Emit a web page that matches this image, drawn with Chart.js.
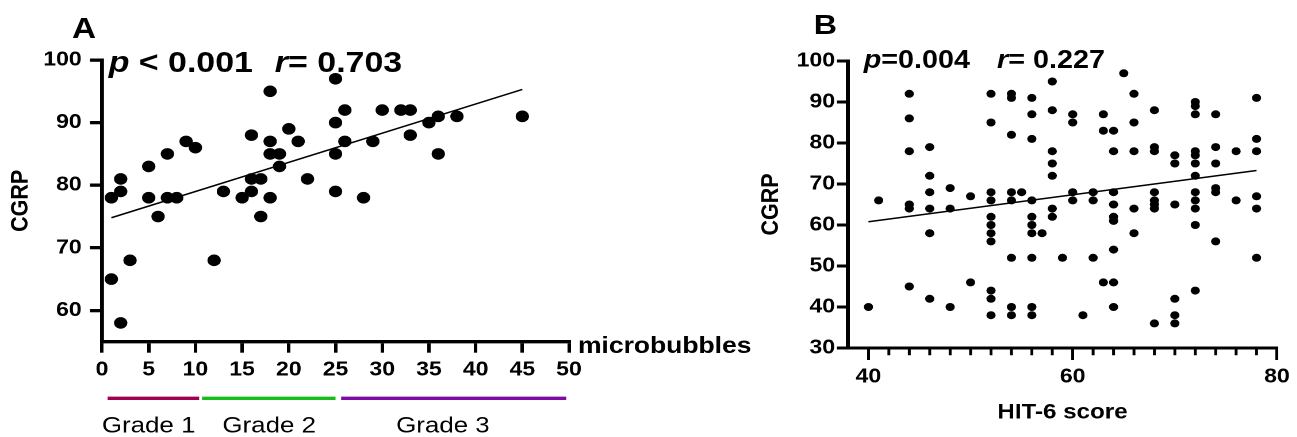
<!DOCTYPE html>
<html>
<head>
<meta charset="utf-8">
<script src="https://cdn.jsdelivr.net/npm/chart.js@4.4.0/dist/chart.umd.min.js"></script>
<style>
html, body { margin:0; padding:0; background:#fff; overflow:hidden; }
/* the source figure is stretched sideways, so the whole stage is too */
#stage { position:absolute; left:0; top:0; width:1128px; height:437px; transform:scaleX(1.15); transform-origin:0 0; font-family:'Liberation Sans', Arial, sans-serif; color:#000; }
#stage canvas { position:absolute; top:0; }
.txt { position:absolute; white-space:nowrap; font-weight:bold; }
</style>
</head>
<body>
<div id="stage">
  <canvas id="chartA" width="670" height="437" style="left:0"></canvas>
  <canvas id="chartB" width="488" height="437" style="left:640px"></canvas>
  <div class="txt" style="left:62.6px;top:13.5px;font-size:29px;line-height:29px">A</div>
  <div class="txt" style="left:707.6px;top:11.3px;font-size:28px;line-height:28px">B</div>
  <div class="txt" style="left:94.5px;top:47px;font-size:29.5px;line-height:29.5px"><i>p</i> &lt; 0.001</div>
  <div class="txt" style="left:239px;top:47px;font-size:29.5px;line-height:29.5px"><i>r</i>= 0.703</div>
  <div class="txt" style="left:751px;top:47.1px;font-size:25px;line-height:25px"><i>p</i>=0.004</div>
  <div class="txt" style="left:867px;top:47.1px;font-size:25px;line-height:25px"><i>r</i>= 0.227</div>
</div>
<script>
// panel A : CGRP vs microbubbles
let microbubbles = [1, 2, 2, 1, 2, 3, 5, 5, 6, 7, 7, 8, 9, 10, 12, 13, 15, 16, 16, 16, 17, 17, 18, 18, 18, 18, 19, 19, 20, 21, 22, 25, 25, 25, 25, 26, 26, 28, 29, 30, 32, 33, 33, 35, 36, 36, 38, 45]
let cgrpA = [78, 81, 79, 65, 58, 68, 83, 78, 75, 85, 78, 78, 87, 86, 68, 79, 78, 88, 81, 79, 81, 75, 95, 87, 85, 78, 85, 83, 89, 87, 81, 97, 90, 85, 79, 92, 87, 78, 87, 92, 92, 92, 88, 90, 91, 85, 91, 91]
let fitXA = [1, 45]
let fitYA = [74.8, 95.3]
let xTicksA = [0, 5, 10, 15, 20, 25, 30, 35, 40, 45, 50]
let yTicksA = [60, 70, 80, 90, 100]
let gradeNames = ["Grade 1", "Grade 2", "Grade 3"]
let gradeFrom = [0.6, 10.7, 25.6]
let gradeTo = [10.4, 25, 49.7]
let gradeLabelAt = [5, 17.9, 36.5]

// panel B : CGRP vs HIT-6 score
let hitScore = [40, 41,
    44, 44, 44, 44, 44, 44,
    46, 46, 46, 46, 46, 46,
    48, 48, 48,
    50, 50,
    52, 52, 52, 52, 52, 52, 52, 52, 52, 52, 52,
    54, 54, 54, 54, 54, 54, 54, 54,
    55,
    56, 56, 56, 56, 56, 56, 56, 56, 56, 56,
    57,
    58, 58, 58, 58, 58, 58, 58,
    59,
    60, 60, 60, 60,
    61,
    62, 62, 62,
    63, 63, 63,
    64, 64, 64, 64, 64, 64, 64, 64, 64,
    65,
    66, 66, 66, 66, 66,
    68, 68, 68, 68, 68, 68, 68, 68,
    70, 70, 70, 70, 70, 70,
    72, 72, 72, 72, 72, 72, 72, 72, 72, 72, 72, 72,
    74, 74, 74, 74, 74, 74,
    76, 76,
    78, 78, 78, 78, 78, 78]
let cgrpB = [40, 66,
    92, 86, 78, 65, 64, 45,
    79, 72, 68, 64, 58, 42,
    69, 64, 40,
    67, 46,
    92, 85, 68, 66, 62, 60, 58, 56, 44, 42, 38,
    92, 91, 82, 68, 66, 52, 40, 38,
    68,
    91, 87, 81, 66, 62, 60, 58, 52, 40, 38,
    58,
    95, 88, 78, 75, 72, 64, 62,
    52,
    87, 85, 68, 66,
    38,
    68, 66, 52,
    87, 83, 46,
    83, 78, 68, 65, 62, 61, 54, 46, 40,
    97,
    92, 85, 78, 64, 58,
    88, 79, 78, 68, 66, 65, 64, 36,
    77, 75, 65, 42, 38, 36,
    90, 89, 87, 78, 77, 75, 72, 68, 66, 64, 60, 44,
    87, 79, 75, 69, 68, 56,
    78, 66,
    91, 81, 78, 67, 64, 52]
let fitXB = [40, 78]
let fitYB = [60.8, 73.3]
let xTicksB = [40, 60, 80]
let xMinorB = [42, 44, 46, 48, 50, 52, 54, 56, 58, 62, 64, 66, 68, 70, 72, 74, 76, 78]
let yTicksB = [30, 40, 50, 60, 70, 80, 90, 100]

let gradeColors = ["#a1004f", "#19bd19", "#7c0aa3"]
let fontFamily = "'Liberation Sans', Arial, sans-serif"

Chart.defaults.font.family = fontFamily
Chart.defaults.color = "#000"

let zip = (xs, ys) => xs.map((x, i) => ({x: x, y: ys[i]}))

let belowAxisA = {
    id: "belowAxisA",
    afterDraw(chart) {
        let ctx = chart.ctx
        let xs = chart.scales.x
        ctx.save()
        ctx.fillStyle = "#000"
        ctx.font = "bold 23px " + fontFamily
        ctx.textAlign = "left"
        ctx.textBaseline = "alphabetic"
        ctx.fillText("microbubbles", xs.right + 7.8, 353)
        ctx.lineWidth = 3.4
        ctx.font = "22.5px " + fontFamily
        ctx.textAlign = "center"
        ctx.textBaseline = "middle"
        for (let i = 0; i < gradeNames.length; i++) {
            ctx.strokeStyle = gradeColors[i]
            ctx.beginPath()
            ctx.moveTo(xs.getPixelForValue(gradeFrom[i]), 398.3)
            ctx.lineTo(xs.getPixelForValue(gradeTo[i]), 398.3)
            ctx.stroke()
            ctx.fillText(gradeNames[i], xs.getPixelForValue(gradeLabelAt[i]), 426.5)
        }
        ctx.restore()
    }
}

let minorTicksB = {
    id: "minorTicksB",
    afterDraw(chart) {
        let ctx = chart.ctx
        let xs = chart.scales.x
        ctx.save()
        ctx.strokeStyle = "#000"
        ctx.lineWidth = 2.5
        ctx.beginPath()
        xMinorB.forEach(v => {
            let px = xs.getPixelForValue(v)
            ctx.moveTo(px, xs.top)
            ctx.lineTo(px, xs.top + 7.3)
        })
        ctx.stroke()
        ctx.restore()
    }
}

new Chart(document.getElementById("chartA"), {
    type: "scatter",
    data: {
        datasets: [
            {data: zip(microbubbles, cgrpA), backgroundColor: "#000", borderColor: "#000", pointRadius: 5.8, borderWidth: 0},
            {data: zip(fitXA, fitYA), showLine: true, pointRadius: 0, borderColor: "#000", borderWidth: 1.5}
        ]
    },
    options: {
        responsive: false, animation: false, devicePixelRatio: 2, events: [],
        layout: {padding: {top: 60, right: 175.2, bottom: 0, left: 0}},
        plugins: {legend: {display: false}, tooltip: {enabled: false}},
        scales: {
            x: {
                type: "linear", min: 0, max: 50,
                afterBuildTicks: s => { s.ticks = xTicksA.map(v => ({value: v})) },
                afterFit: s => { s.height = 95.3 },
                grid: {drawOnChartArea: false, drawTicks: true, tickLength: 11, tickWidth: 3, lineWidth: 3, tickColor: "#000"},
                border: {display: true, width: 3.4, color: "#000"},
                ticks: {font: {size: 20, weight: "bold"}, padding: 5.3, maxRotation: 0, autoSkip: false}
            },
            y: {
                type: "linear", min: 55, max: 100,
                afterBuildTicks: s => { s.ticks = yTicksA.map(v => ({value: v})) },
                afterFit: s => { s.width = 88.7 },
                grid: {drawOnChartArea: false, drawTicks: true, tickLength: 10.5, tickWidth: 3.3, lineWidth: 3.3, tickColor: "#000"},
                border: {display: true, width: 3.4, color: "#000"},
                ticks: {font: {size: 20, weight: "bold"}, padding: 7.2, autoSkip: false},
                title: {display: true, text: "CGRP", font: {size: 21.5, weight: "bold"}, padding: {top: 5.4, bottom: 0}}
            }
        }
    },
    plugins: [belowAxisA]
})

new Chart(document.getElementById("chartB"), {
    type: "scatter",
    data: {
        datasets: [
            {data: zip(hitScore, cgrpB), backgroundColor: "#000", borderColor: "#000", pointRadius: 4, borderWidth: 0},
            {data: zip(fitXB, fitYB), showLine: true, pointRadius: 0, borderColor: "#000", borderWidth: 1.5}
        ]
    },
    options: {
        responsive: false, animation: false, devicePixelRatio: 2, events: [],
        layout: {padding: {top: 61, right: 17.6, bottom: 0, left: 0}},
        plugins: {legend: {display: false}, tooltip: {enabled: false}},
        scales: {
            x: {
                type: "linear", min: 38, max: 80,
                afterBuildTicks: s => { s.ticks = xTicksB.map(v => ({value: v})) },
                afterFit: s => { s.height = 89 },
                grid: {drawOnChartArea: false, drawTicks: true, tickLength: 12, tickWidth: 2.5, lineWidth: 2.5, tickColor: "#000"},
                border: {display: true, width: 3, color: "#000"},
                ticks: {font: {size: 20, weight: "bold"}, padding: 5, maxRotation: 0, autoSkip: false},
                title: {display: true, text: "HIT-6 score", font: {size: 21, weight: "bold"}, padding: {top: 0, bottom: 11.9}}
            },
            y: {
                type: "linear", min: 30, max: 100,
                afterBuildTicks: s => { s.ticks = yTicksB.map(v => ({value: v})) },
                afterFit: s => { s.width = 97.4 },
                grid: {drawOnChartArea: false, drawTicks: true, tickLength: 9.6, tickWidth: 3, lineWidth: 3, tickColor: "#000"},
                border: {display: true, width: 3.5, color: "#000"},
                ticks: {font: {size: 20, weight: "bold"}, padding: 1.7, autoSkip: false},
                title: {display: true, text: "CGRP", font: {size: 21.5, weight: "bold"}, padding: {top: 17.5, bottom: 0}}
            }
        }
    },
    plugins: [minorTicksB]
})
</script>
</body>
</html>
